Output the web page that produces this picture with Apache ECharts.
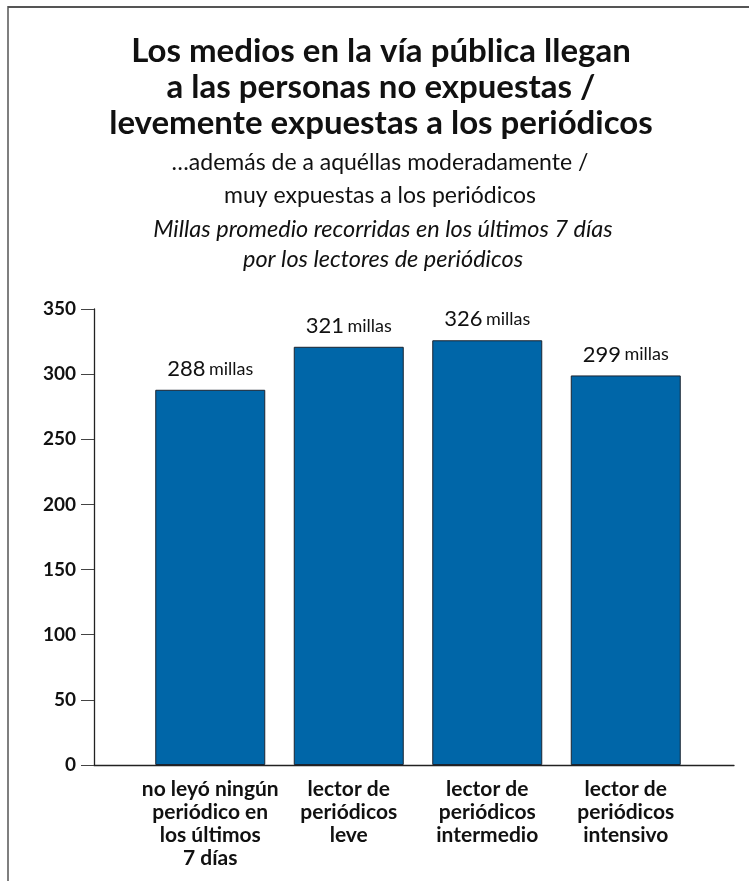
<!DOCTYPE html>
<html>
<head>
<meta charset="utf-8">
<script src="https://cdn.jsdelivr.net/npm/echarts@6/dist/echarts.min.js"></script>
<style>
  html, body { margin: 0; padding: 0; background: #fff; }
  #chart { width: 749px; height: 881px; }
</style>
</head>
<body>
<div id="chart"></div>
<script>
// Reader groups and average miles travelled in the last 7 days
const categories = [
  'no leyó ningún\nperiódico en\nlos últimos\n7 días',
  'lector de\nperiódicos\nleve',
  'lector de\nperiódicos\nintermedio',
  'lector de\nperiódicos\nintensivo'
];
const millas = [288, 321, 326, 299];
const unidad = 'millas';

const titulo = 'Los medios en la vía pública llegan\na las personas no expuestas /\nlevemente expuestas a los periódicos';
const subtitulo = '…además de a aquéllas moderadamente /\nmuy expuestas a los periódicos';
const nota = 'Millas promedio recorridas en los últimos 7 días\npor los lectores de periódicos';

const yMin = 0, yMax = 350, yStep = 50;

const FONT = 'Lato, "DejaVu Sans", sans-serif';
const INK = '#111';

const chart = echarts.init(document.getElementById('chart'), null, { renderer: 'canvas' });

chart.setOption({
  backgroundColor: '#fff',
  animation: false,
  title: [
    {
      text: titulo,
      left: 376, top: 28, textAlign: 'center',
      textStyle: { fontFamily: FONT, fontWeight: 'bold', fontSize: 33, lineHeight: 36, color: INK }
    },
    {
      text: subtitulo,
      left: 375, top: 141, textAlign: 'center',
      textStyle: { fontFamily: FONT, fontWeight: 'normal', fontSize: 23, lineHeight: 33, color: INK }
    },
    {
      text: nota,
      left: 378, top: 209, textAlign: 'center',
      textStyle: { fontFamily: FONT, fontWeight: 'normal', fontStyle: 'italic', fontSize: 23.5, lineHeight: 30, color: INK }
    }
  ],
  // Outer frame: top and left rules
  graphic: [
    { type: 'line', shape: { x1: 8, y1: 7, x2: 749, y2: 7 }, style: { stroke: '#555', lineWidth: 2 } },
    { type: 'line', shape: { x1: 8, y1: 6, x2: 8, y2: 881 }, style: { stroke: '#555', lineWidth: 1.5 } }
  ],
  grid: [
    // bars
    { left: 141, right: 54, top: 309, bottom: 116 },
    // axis frame (wider than the bar band)
    { left: 94, right: 15, top: 309, bottom: 116 }
  ],
  xAxis: [
    {
      gridIndex: 0, type: 'category', data: categories,
      axisLine: { show: false }, axisTick: { show: false },
      axisLabel: {
        interval: 0, margin: 13,
        fontFamily: FONT, fontWeight: 'bold', fontSize: 21, lineHeight: 23, color: INK
      }
    },
    {
      gridIndex: 1, type: 'value', min: 0, max: 1,
      axisLine: { show: true, onZero: false, lineStyle: { color: '#222', width: 1.3 } },
      axisTick: { show: false }, axisLabel: { show: false }, splitLine: { show: false }
    }
  ],
  yAxis: [
    {
      gridIndex: 0, type: 'value', min: yMin, max: yMax, interval: yStep,
      show: false, splitLine: { show: false }
    },
    {
      gridIndex: 1, type: 'value', min: yMin, max: yMax, interval: yStep,
      axisLine: { show: true, lineStyle: { color: '#222', width: 1.3 } },
      axisTick: { show: true, length: 13, lineStyle: { color: '#444', width: 1 } },
      axisLabel: {
        margin: 18,
        fontFamily: FONT, fontWeight: 'bold', fontSize: 19, color: INK
      },
      splitLine: { show: false }
    }
  ],
  series: [
    {
      type: 'bar',
      xAxisIndex: 0, yAxisIndex: 0,
      data: millas,
      barWidth: 110,
      itemStyle: { color: '#0066A8', borderColor: '#1b2430', borderWidth: 1 },
      label: {
        show: true, position: 'top', distance: 10,
        formatter: p => '{n|' + p.value + '} {u|' + unidad + '}',
        rich: {
          n: { fontFamily: FONT, fontSize: 22, color: INK },
          u: { fontFamily: FONT, fontSize: 18, color: INK }
        }
      }
    }
  ]
});
</script>
</body>
</html>
